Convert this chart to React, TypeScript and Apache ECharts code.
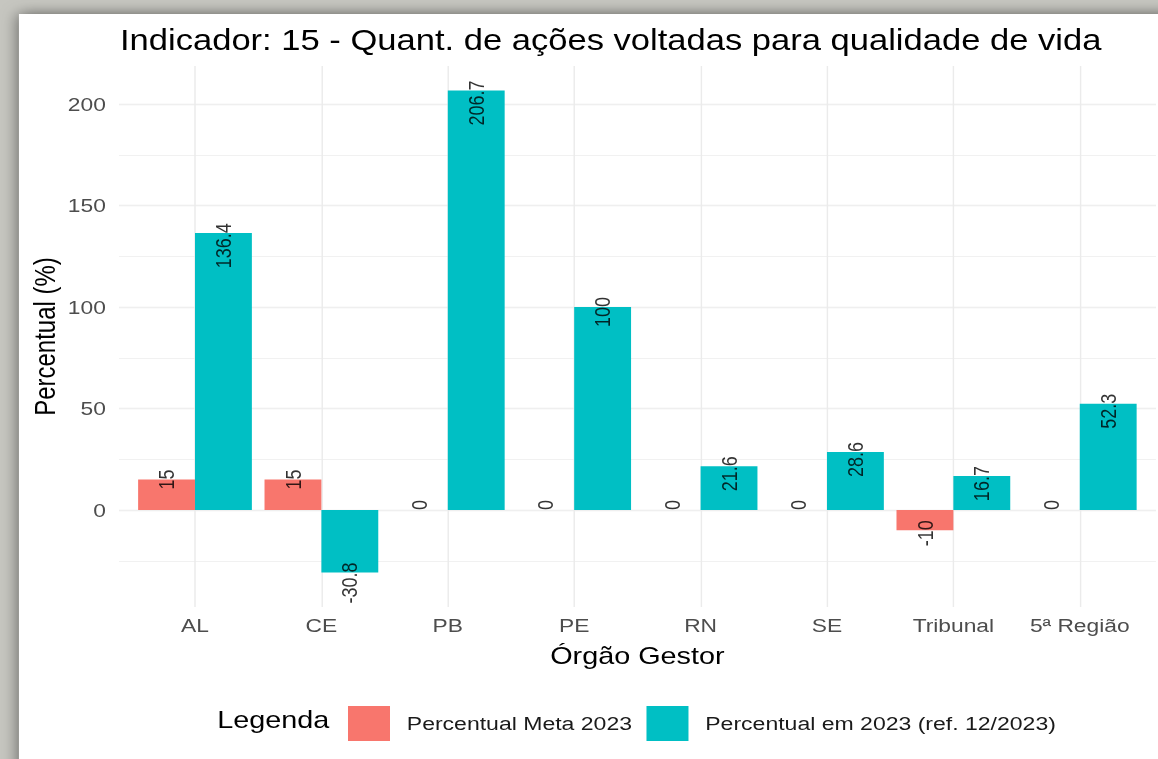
import React, { useEffect, useRef } from 'react';
import * as echarts from 'echarts';

const categories = ['AL', 'CE', 'PB', 'PE', 'RN', 'SE', 'Tribunal', '5ª Região'];
const metaValues = [15, 15, 0, 0, 0, 0, -10, 0];
const atualValues = [136.4, -30.8, 206.7, 100, 21.6, 28.6, 16.7, 52.3];
const seriesNames = ['Percentual Meta 2023', 'Percentual em 2023 (ref. 12/2023)'];
const seriesColors = ['#F8766D', '#00BFC4'];
const yTickLabels = [0, 50, 100, 150, 200];

const SX = 1.2; // the reference picture is stretched horizontally
const W = 1158 / SX;
const H = 759;
const FONT = '"Liberation Sans", Arial, sans-serif';

export default function App() {
  const ref = useRef<HTMLDivElement>(null);
  useEffect(() => {
    document.body.style.margin = '0';
    const chart = echarts.init(ref.current!, null, { renderer: 'svg' });
    const half = 0.225;
    const labelSeries = (vals: number[], shift: number, name: string) => ({
      type: 'scatter',
      name,
      xAxisIndex: 1,
      yAxisIndex: 0,
      symbolSize: 1,
      clip: false,
      itemStyle: { color: 'transparent' },
      silent: true,
      z: 5,
      data: vals.map((v, i) => [i + shift, v]),
      label: {
        show: true,
        position: 'inside',
        rotate: 90,
        align: 'right',
        verticalAlign: 'middle',
        offset: [10, 0],
        fontSize: 18,
        fontFamily: FONT,
        color: '#000',
        formatter: (p: any) => String(p.value[1]),
      },
    });
    const option: any = {
      animation: false,
      backgroundColor: '#c6c6c0',
      graphic: [
        {
          type: 'rect',
          z: -10,
          silent: true,
          shape: { x: 19 / SX, y: 14, width: W, height: H },
          style: { fill: '#ffffff', shadowBlur: 14, shadowColor: 'rgba(0,0,0,0.55)' },
        },
      ],
      title: [
        {
          text: 'Indicador: 15 - Quant. de ações voltadas para qualidade de vida',
          left: 100,
          top: 26,
          padding: 0,
          textStyle: { fontSize: 28.8, fontWeight: 'normal', color: '#000', fontFamily: FONT },
        },
        {
          text: 'Legenda',
          left: 181,
          top: 708,
          padding: 0,
          textStyle: { fontSize: 24, fontWeight: 'normal', color: '#000', fontFamily: FONT },
        },
      ],
      legend: {
        left: 285,
        top: 701,
        itemWidth: 35,
        itemHeight: 35,
        itemGap: 12,
        icon: 'rect',
        selectedMode: false,
        data: seriesNames,
        textStyle: { fontSize: 19.2, color: '#1a1a1a', fontFamily: FONT, padding: [0, 0, 0, 9] },
      },
      grid: [
        { left: 162.5, right: 65.2, top: 53.25, bottom: 147.5 },
        { left: 99.2, right: 1.7, top: 53.25, bottom: 147.5 },
        { left: 162.5, right: 65.2, top: 66, bottom: 152 },
      ],
      xAxis: [
        { type: 'category', gridIndex: 0, data: categories, boundaryGap: false, show: false },
        { type: 'value', gridIndex: 0, min: 0, max: categories.length - 1, show: false },
        { type: 'value', gridIndex: 1, min: 0, max: 1, show: false },
        {
          type: 'category',
          gridIndex: 2,
          data: categories,
          boundaryGap: false,
          axisLine: { show: false },
          axisTick: { show: false },
          axisLabel: { interval: 0, color: '#4d4d4d', fontSize: 19, fontFamily: FONT, margin: 9 },
          splitLine: { show: true, interval: 0, lineStyle: { color: '#ebebeb', width: 1.2 } },
          name: 'Órgão Gestor',
          nameLocation: 'middle',
          nameGap: 37,
          nameTextStyle: { fontSize: 24, color: '#000', fontFamily: FONT },
        },
      ],
      yAxis: [
        { type: 'value', gridIndex: 0, min: -50, max: 225, show: false },
        {
          type: 'value',
          gridIndex: 1,
          min: -50,
          max: 225,
          interval: 50,
          axisLine: { show: false },
          axisTick: { show: false },
          axisLabel: {
            color: '#4d4d4d',
            fontSize: 19,
            fontFamily: FONT,
            margin: 11,
            formatter: (v: number) => (yTickLabels.includes(v) ? String(v) : ''),
          },
          splitLine: {
            show: true,
            showMinLine: false,
            showMaxLine: false,
            lineStyle: { color: '#ebebeb', width: 1.4 },
          },
        },
        {
          type: 'value',
          gridIndex: 1,
          min: -50,
          max: 225,
          interval: 25,
          axisLine: { show: false },
          axisTick: { show: false },
          axisLabel: { show: false },
          splitLine: {
            show: true,
            showMinLine: false,
            showMaxLine: false,
            lineStyle: { color: '#efefef', width: 0.8 },
          },
        },
        {
          type: 'value',
          gridIndex: 2,
          min: 0,
          max: 1,
          axisLine: { show: false },
          axisTick: { show: false },
          axisLabel: { show: false },
          splitLine: { show: false },
          name: 'Percentual (%)',
          nameLocation: 'middle',
          nameGap: 113,
          nameTextStyle: { fontSize: 24, color: '#000', fontFamily: FONT },
        },
      ],
      series: [
        {
          type: 'bar',
          name: seriesNames[0],
          xAxisIndex: 0,
          yAxisIndex: 0,
          data: metaValues,
          barGap: '0%',
          barCategoryGap: '10%',
          clip: false,
          itemStyle: { color: seriesColors[0] },
        },
        {
          type: 'bar',
          name: seriesNames[1],
          xAxisIndex: 0,
          yAxisIndex: 0,
          data: atualValues,
          barGap: '0%',
          barCategoryGap: '10%',
          clip: false,
          itemStyle: { color: seriesColors[1] },
        },
        labelSeries(metaValues, -half, 'lab_meta'),
        labelSeries(atualValues, half, 'lab_atual'),
      ],
    };
    chart.setOption(option);
    return () => chart.dispose();
  }, []);
  return (
    <div
      ref={ref}
      style={{
        position: 'absolute',
        left: 0,
        top: 0,
        width: W,
        height: H,
        transform: `scaleX(${SX})`,
        transformOrigin: '0 0',
      }}
    />
  );
}
